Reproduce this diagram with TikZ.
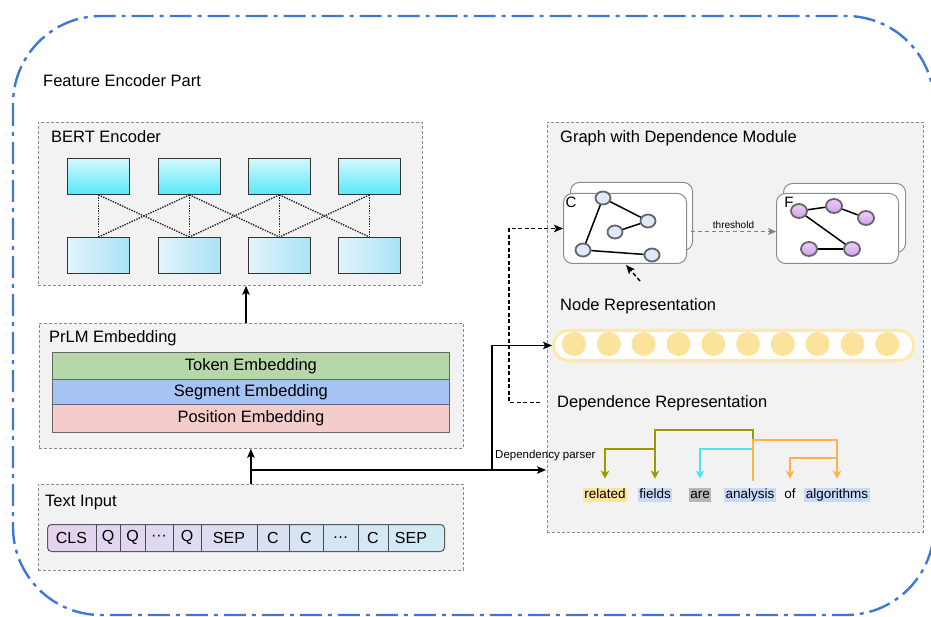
\documentclass[tikz,border=0pt]{standalone}
\usepackage{fontspec}
\setmainfont{Liberation Sans}
\usetikzlibrary{arrows.meta,shapes.geometric,calc}
\definecolor{outerblue}{RGB}{60,120,216}
\definecolor{boxgray}{RGB}{242,242,242}
\definecolor{boxline}{RGB}{140,140,140}
\definecolor{cyantop}{RGB}{212,248,252}
\definecolor{cyanbot}{RGB}{88,232,250}
\definecolor{bluel}{RGB}{226,244,252}
\definecolor{bluer}{RGB}{170,226,246}
\definecolor{tokg}{RGB}{182,215,168}
\definecolor{segb}{RGB}{164,194,244}
\definecolor{posr}{RGB}{244,204,204}
\definecolor{barl}{RGB}{228,210,238}
\definecolor{barr}{RGB}{208,236,244}
\definecolor{nrline}{RGB}{255,233,168}
\definecolor{nrfill}{RGB}{252,227,155}
\definecolor{gnfill}{RGB}{221,232,250}
\definecolor{pnl}{RGB}{236,206,248}
\definecolor{pnd}{RGB}{210,160,236}
\definecolor{ylw}{RGB}{255,229,153}
\definecolor{lblu}{RGB}{201,218,248}
\definecolor{gryw}{RGB}{183,183,183}
\definecolor{olv}{RGB}{153,153,0}
\definecolor{cyn}{RGB}{80,225,250}
\definecolor{org}{RGB}{255,178,76}
\tikzset{
  gbox/.style={draw=boxline, dash pattern=on 3pt off 2pt, fill=boxgray, line width=0.8pt, inner sep=0, anchor=north west},
  lbl/.style={font=\fontsize{16.5}{19}\selectfont, inner sep=0, anchor=base west},
  topcell/.style={draw=black!80, line width=0.9pt, top color=cyantop, bottom color=cyanbot, minimum width=62pt, minimum height=36pt, inner sep=0, anchor=north west},
  botcell/.style={draw=black!80, line width=0.9pt, left color=bluel, right color=bluer, minimum width=62pt, minimum height=36pt, inner sep=0, anchor=north west},
  dotl/.style={line width=1.4pt, dash pattern=on 1.4pt off 1.2pt, black!85},
  emb/.style={draw=black!60, line width=0.8pt, minimum width=397pt, inner sep=0, anchor=north west, font=\fontsize{16.5}{19}\selectfont},
  tok/.style={font=\fontsize{16}{19}\selectfont, inner sep=0},
  arr/.style={line width=1.4pt, -{Stealth[length=9pt,width=7.5pt,inset=2pt]}},
  dasharr/.style={line width=1.4pt, dash pattern=on 4pt off 2.5pt, -{Stealth[length=9pt,width=7.5pt,inset=2pt]}},
  thr/.style={line width=1pt, draw=black!50, dash pattern=on 4pt off 3pt, -{Stealth[length=8pt,width=7pt,inset=2pt]}},
  card/.style={draw=black!45, line width=1pt, fill=white, rounded corners=9pt, inner sep=0, anchor=north west},
  gnode/.style={ellipse, draw=black!60, line width=1.8pt, fill=gnfill, minimum width=15pt, minimum height=13pt, inner sep=0},
  pnode/.style={ellipse, draw=black!60, line width=1.8pt, top color=pnl, bottom color=pnd, minimum width=16pt, minimum height=14pt, inner sep=0},
  gedge/.style={line width=1.5pt, black},
  word/.style={inner xsep=1.5pt, inner ysep=1pt, text height=10pt, text depth=2.5pt, font=\fontsize{13.5}{16}\selectfont},
  dep/.style={line width=1.8pt, -{Stealth[length=8pt,width=8.5pt,inset=2.5pt]}, shorten >=9pt},
}
\begin{document}
\begin{tikzpicture}[x=1pt,y=-1pt]
\useasboundingbox (0,0) rectangle (931,617);
% outer frame
\draw[outerblue, line width=2.4pt, dash pattern=on 22pt off 6pt on 4pt off 6pt, rounded corners=88pt] (13,16) rectangle (934,615);
\node[lbl] (feat) at (43,87) {Feature Encoder Part};

% BERT encoder
\node[gbox, minimum width=384pt, minimum height=163pt] (bert) at (38,122) {};
\node[lbl] (bertl) at (51,143) {BERT Encoder};
\foreach \i/\x in {1/67,2/158,3/248,4/338}{
  \node[topcell] (t\i) at (\x,158) {};
  \node[botcell] (b\i) at (\x,237) {};
}
\foreach \i in {1,...,4}{ \draw[dotl] (t\i.south) -- (b\i.north); }
\foreach \i/\j in {1/2,2/3,3/4}{
  \draw[dotl] (t\i.south) -- (b\j.north);
  \draw[dotl] (t\j.south) -- (b\i.north);
}

% PrLM embedding
\node[gbox, minimum width=424pt, minimum height=125pt] (prlm) at (39,323) {};
\node[lbl] (prlml) at (49,342) {PrLM Embedding};
\node[emb, fill=tokg, minimum height=27pt] (tokemb) at (52,352) {Token Embedding};
\node[emb, fill=segb, minimum height=25pt] (segemb) at (52,379) {Segment Embedding};
\node[emb, fill=posr, minimum height=28pt] (posemb) at (52,404) {Position Embedding};

% Text input
\node[gbox, minimum width=425pt, minimum height=86pt] (textin) at (38,484) {};
\node[lbl] (textl) at (45,506) {Text Input};
\node[draw=black!65, line width=1pt, rounded corners=4pt, left color=barl, right color=barr, minimum width=397pt, minimum height=27pt, inner sep=0, anchor=north west] (tokbar) at (47,524) {};
\foreach \x in {96,120,145,173,201,257,289,323,358,388}{ \draw[black!70, line width=0.8pt] (\x,524) -- (\x,551); }
\foreach \n/\x/\t in {1/71.5/CLS,2/108/Q,3/132.5/Q,4/159/{···},5/187/Q,6/229/SEP,7/273/C,8/306/C,9/340.5/{…},10/373/C,11/411/SEP}{
  \node[tok] (tk\n) at (\x,537.5) {\t};
}

% Graph module box
\node[gbox, minimum width=376pt, minimum height=410pt] (graph) at (547,122) {};
\node[lbl] (graphl) at (560,143) {Graph with Dependence Module};

% main connectors
\draw[arr] (textin.north) -- (textin.north |- prlm.south);
\coordinate (ba) at (246,323);
\draw[arr] (ba) -- (ba |- bert.south);
\path (textin.north) ++(0,-14) coordinate (split);
\coordinate (depin) at (546,470);
\draw[arr] (split) -- (depin);
\node[inner sep=0, anchor=base west, font=\fontsize{11.5}{14}\selectfont] (dpl) at (495,458) {Dependency parser};

% graph cards
\node[card, minimum width=122pt, minimum height=68pt] (cardCb) at (570,182) {};
\node[card, minimum width=123pt, minimum height=70pt] (cardC) at (563,193) {};
\node[inner sep=0, font=\fontsize{15}{18}\selectfont] (clab) at (571,202) {C};
\node[gnode] (c1) at (603,198) {};
\node[gnode] (c2) at (648,221) {};
\node[gnode] (c3) at (615,232) {};
\node[gnode] (c4) at (583,250) {};
\node[gnode] (c5) at (652,255) {};
\draw[gedge] (c1) -- (c2);
\draw[gedge] (c3) -- (c2);
\draw[gedge] (c1) -- (c4);
\draw[gedge] (c4) -- (c5);

\node[card, minimum width=122pt, minimum height=69pt] (cardFb) at (783,183) {};
\node[card, minimum width=122pt, minimum height=70pt] (cardF) at (776,193) {};
\node[inner sep=0, font=\fontsize{15}{18}\selectfont] (flab) at (789,202) {F};
\node[pnode] (f1) at (799,211) {};
\node[pnode] (f2) at (834,206) {};
\node[pnode] (f3) at (866,218) {};
\node[pnode] (f4) at (809,249) {};
\node[pnode] (f5) at (852,249) {};
\draw[gedge] (f1) -- (f2);
\draw[gedge] (f2) -- (f3);
\draw[gedge] (f1) -- (f5);
\draw[gedge] (f4) -- (f5);
\draw[thr] ([xshift=4pt,yshift=-3pt]cardC.east) -- ([yshift=-3pt]cardF.west) node[midway, above=2pt, inner sep=0, font=\fontsize{10}{12}\selectfont] (thl) {threshold};

% node representation
\node[lbl] (nrl) at (560,311) {Node Representation};
\coordinate (nrs) at (640,281);
\coordinate (nrt) at (626,265);
\draw[dasharr] (nrs) -- (nrt);
\node[draw=nrline, line width=3pt, fill=white, rounded corners=15pt, minimum width=360pt, minimum height=30pt, inner sep=0, anchor=north west] (nrbar) at (552,329) {};
\foreach \i in {0,...,9}{ \node[circle, fill=nrfill, minimum size=24pt, inner sep=0] (nr\i) at ({574+34.8*\i},344) {}; }
\coordinate (br) at (492,470);
\draw[arr] (br) |- (nrbar.west);

% dependence representation
\node[lbl] (deprep) at (557,407) {Dependence Representation};
\draw[dasharr] ([xshift=-17pt]deprep.west) -- ++(-31,0) |- (cardC.west);

% dependency tree
\node[word, fill=ylw] (w1) at (605,495) {related};
\node[word, fill=lblu] (w2) at (655,495) {fields};
\node[word, fill=gryw] (w3) at (700,495) {are};
\node[word, fill=lblu] (w4) at (750,495) {analysis};
\node[word] (w5) at (790,495) {of};
\node[word, fill=lblu] (w6) at (837,495) {algorithms};
\draw[dep, olv] (753,441) -- (753,430) -| (w2.north);
\draw[dep, olv] (655,449) -| (w1.north);
\draw[dep, cyn] (752,449) -| (w3.north);
\draw[dep, org] (753,481) -- (753,440) -| (w6.north);
\draw[dep, org] (837,458) -| (w5.north);
\end{tikzpicture}
\end{document}
